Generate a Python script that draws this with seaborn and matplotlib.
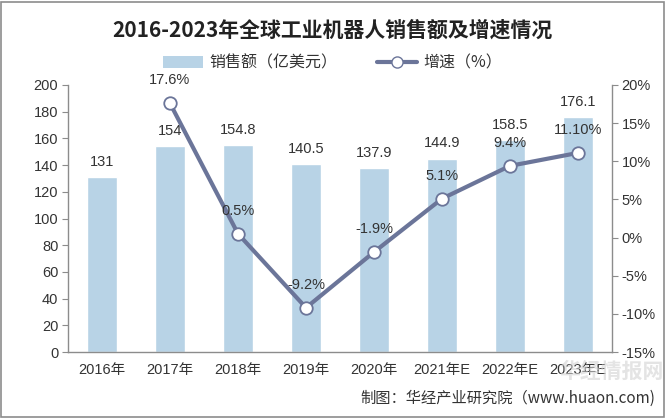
import matplotlib
matplotlib.use("Agg")
import matplotlib.pyplot as plt
import seaborn as sns
import pandas as pd
import numpy as np
from matplotlib.patches import Patch, Rectangle
from matplotlib.lines import Line2D

categories = ["2016年", "2017年", "2018年", "2019年", "2020年", "2021年E", "2022年E", "2023年E"]
sales = [131, 154, 154.8, 140.5, 137.9, 144.9, 158.5, 176.1]
sales_labels = ["131", "154", "154.8", "140.5", "137.9", "144.9", "158.5", "176.1"]
growth = [np.nan, 17.6, 0.5, -9.2, -1.9, 5.1, 9.4, 11.10]
growth_labels = ["", "17.6%", "0.5%", "-9.2%", "-1.9%", "5.1%", "9.4%", "11.10%"]
left_ticks = [0, 20, 40, 60, 80, 100, 120, 140, 160, 180, 200]
right_ticks = [-15, -10, -5, 0, 5, 10, 15, 20]

sns.set_style("white")
plt.rcParams['font.family'] = ['Liberation Sans', 'Noto Sans CJK SC', 'DejaVu Sans']

bar_color = "#b8d3e6"
line_color = "#6b7599"
axis_color = "#8c8c8c"
text_color = "#333333"

df = pd.DataFrame({"cat": categories, "sales": sales, "growth": growth})
df["pos"] = np.arange(len(df))

fig = plt.figure(figsize=(6.65, 4.18), dpi=100)
ax = fig.add_axes([68/665, 1-352/418, 544/665, 267/418])

sns.barplot(data=df, x="cat", y="sales", color=bar_color, width=0.45,
            saturation=1, ax=ax, order=categories)
ax.set_ylim(0, 200)
ax.set_xlim(-0.5, len(categories)-0.5)
ax.set_yticks(left_ticks)
ax.set_xlabel("")
ax.set_ylabel("")

for i, (v, lab) in enumerate(zip(sales, sales_labels)):
    ax.annotate(lab, (i, v), xytext=(0, 11), textcoords="offset points",
                ha="center", va="center", fontsize=10.5, color=text_color)

ax2 = ax.twinx()
gdf = df.dropna()
sns.lineplot(data=gdf, x="pos", y="growth", ax=ax2, color=line_color, linewidth=3,
             marker="o", markersize=9, markerfacecolor="white",
             markeredgecolor=line_color, markeredgewidth=1.3)
ax2.set_ylim(-15, 20)
ax2.set_yticks(right_ticks)
ax2.set_yticklabels([f"{t}%" for t in right_ticks])
ax2.set_ylabel("")
ax2.set_xlabel("")
ax2.set_xlim(-0.5, len(categories)-0.5)

for p, v, lab in zip(df["pos"], growth, growth_labels):
    if lab:
        ax2.annotate(lab, (p, v), xytext=(0, 16.5), textcoords="offset points",
                     ha="center", va="center", fontsize=10.5, color=text_color)

for a in (ax, ax2):
    for s in a.spines.values():
        s.set_color(axis_color)
        s.set_linewidth(1)
    a.spines["top"].set_visible(False)

ax.spines["right"].set_visible(False)
ax2.spines["left"].set_visible(False)
ax2.spines["bottom"].set_visible(False)

ax.set_xticks(np.arange(len(categories)))
ax.set_xticklabels(categories)
ax.tick_params(axis="x", length=0, pad=8, labelsize=10.5, labelcolor=text_color)
ax.set_xticks(np.arange(-0.5, len(categories)), minor=True)
ax.tick_params(axis="x", which="minor", length=5, color=axis_color, direction="out")
ax.tick_params(axis="y", length=4, color=axis_color, direction="out", labelsize=10.5,
               labelcolor=text_color, left=True, pad=3)
ax2.tick_params(axis="y", length=4, color=axis_color, direction="out", labelsize=10.5,
                labelcolor=text_color, right=True, pad=3)

fig.text(0.5, 1-30/418, "2016-2023年全球工业机器人销售额及增速情况", ha="center", va="center",
         fontsize=15, fontweight="bold", color="#222222",
         family=['Noto Sans CJK SC', 'DejaVu Sans'])

handles = [Patch(facecolor=bar_color, edgecolor="none"),
           Line2D([0], [0], color=line_color, lw=3, marker="o", markersize=8,
                  markerfacecolor="white", markeredgecolor=line_color)]
fig.legend(handles, ["销售额（亿美元）", "增速（%）"], loc="center",
           bbox_to_anchor=(0.5, 1-63/418), ncol=2, frameon=False,
           handlelength=2.5, columnspacing=2.5, handletextpad=0.4,
           labelcolor=text_color, prop={'family': ['Noto Sans CJK SC', 'DejaVu Sans'], 'size': 11.5})

# faint watermark
fig.text(612/665, 1-371/418, "华经情报网", ha="center", va="center", fontsize=15,
         fontweight="bold", color="#d2d2d2", alpha=0.6,
         family=['Noto Sans CJK SC', 'DejaVu Sans'])

fig.text(655/665, 1-398/418, "制图：华经产业研究院（www.huaon.com)", ha="right", va="center",
         fontsize=11, color=text_color, family=['Noto Sans CJK SC', 'DejaVu Sans'])

fig.patches.append(Rectangle((0.002, 0.002), 0.996, 0.994, transform=fig.transFigure,
                             fill=False, edgecolor="#8c8c8c", linewidth=1.2))

fig.savefig("out.png", dpi=100)
